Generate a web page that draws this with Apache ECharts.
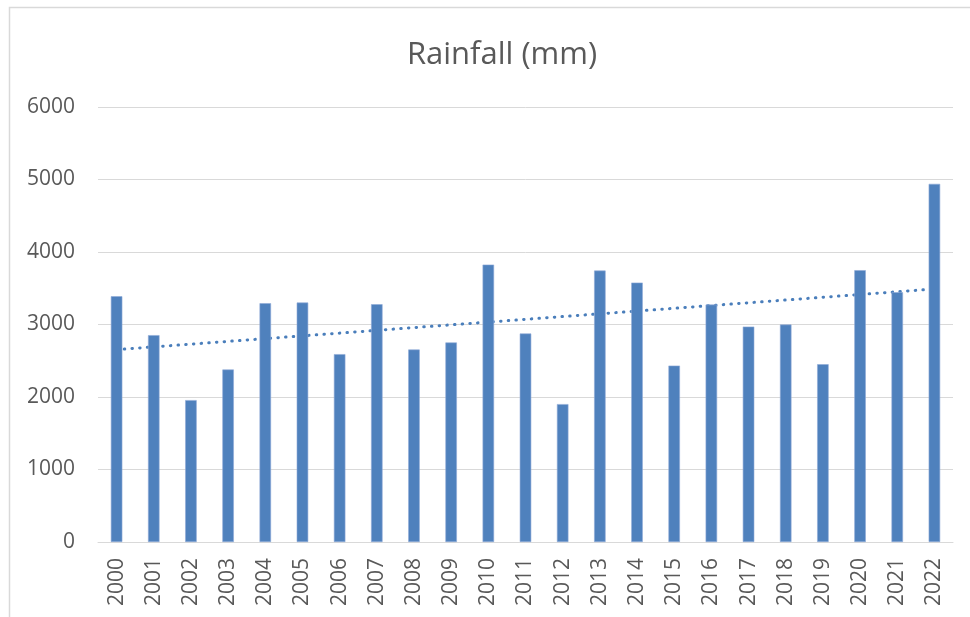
<!DOCTYPE html>
<html>
<head>
<meta charset="utf-8">
<script src="https://cdn.jsdelivr.net/npm/echarts@6/dist/echarts.min.js"></script>
<style>html,body{margin:0;padding:0;background:#fff;}#c{width:970px;height:617px;}</style>
</head>
<body>
<div id="c"></div>
<script>
const years = ['2000','2001','2002','2003','2004','2005','2006','2007','2008','2009','2010','2011','2012','2013','2014','2015','2016','2017','2018','2019','2020','2021','2022'];
const rainfall = [3390,2853,1957,2379,3294,3303,2591,3280,2655,2752,3826,2876,1902,3744,3578,2433,3275,2971,2999,2452,3749,3445,4940];
const yTicks = [0,1000,2000,3000,4000,5000,6000];

// linear trendline (least squares) from the data
const n = rainfall.length;
const mx = (n - 1) / 2;
const my = rainfall.reduce((a, b) => a + b, 0) / n;
let sxy = 0, sxx = 0;
rainfall.forEach((v, i) => { sxy += (i - mx) * (v - my); sxx += (i - mx) * (i - mx); });
const slope = sxy / sxx;
const trend = rainfall.map((v, i) => +(my + slope * (i - mx)).toFixed(1));

const font = 'Open Sans';
const chart = echarts.init(document.getElementById('c'));
chart.setOption({
  animation: false,
  backgroundColor: '#fff',
  title: {
    text: 'Rainfall (mm)',
    left: 497, top: 35, textAlign: 'center',
    textStyle: { fontFamily: font, fontSize: 31, fontWeight: 'normal', color: '#595959' }
  },
  graphic: [{
    type: 'rect', silent: true, z: -10,
    shape: { x: 9.5, y: 7.5, width: 1000, height: 700 },
    style: { fill: 'none', stroke: '#d9d9d9', lineWidth: 1.5 }
  }],
  grid: { left: 98, right: 17, top: 107, bottom: 75, containLabel: false },
  xAxis: {
    type: 'category', data: years,
    axisLine: { lineStyle: { color: '#d9d9d9', width: 1 } },
    axisTick: { show: false },
    axisLabel: { rotate: 90, margin: 16, interval: 0, fontFamily: font, fontSize: 21, color: '#595959' }
  },
  yAxis: {
    type: 'value', min: yTicks[0], max: yTicks[yTicks.length - 1], interval: 1000,
    axisLine: { show: false }, axisTick: { show: false },
    splitLine: { lineStyle: { color: '#d9d9d9', width: 1 } },
    axisLabel: { margin: 23, fontFamily: font, fontSize: 21, color: '#595959', formatter: v => String(v) }
  },
  series: [
    {
      type: 'line', data: trend, z: 1, symbol: 'none', silent: true,
      lineStyle: { color: '#4a7ebb', width: 3, type: [0.5, 7.2], cap: 'round' }
    },
    {
      type: 'bar', data: rainfall, z: 3, barWidth: 11.5,
      itemStyle: { color: '#4f81bd', borderColor: '#8eaad6', borderWidth: 0.6 }
    }
  ]
});
</script>
</body>
</html>
